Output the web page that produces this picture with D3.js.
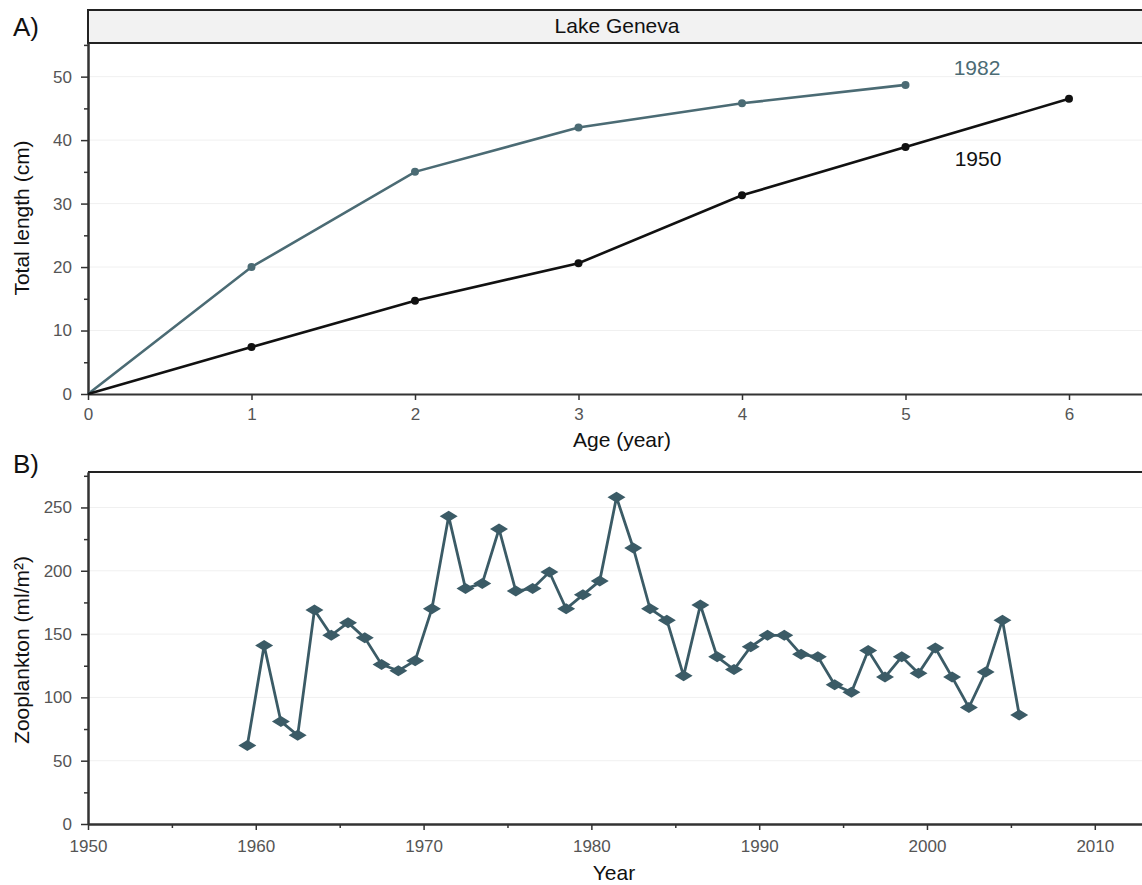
<!DOCTYPE html>
<html>
<head>
<meta charset="utf-8">
<script src="https://cdn.jsdelivr.net/npm/d3@7"></script>
<style>
  body { margin: 0; background: #fff; }
  text { font-family: "Liberation Sans", Arial, sans-serif; }
</style>
</head>
<body>
<div id="chart"></div>
<script>
// panel A data: mean total length at age
var ages = [0, 1, 2, 3, 4, 5, 6];
var length1950 = [0, 7.4, 14.7, 20.6, 31.3, 38.9, 46.5];
var length1982 = [0, 20, 35, 42, 45.8, 48.7];
var lengthTicks = [0, 10, 20, 30, 40, 50];
var ageTicks = [0, 1, 2, 3, 4, 5, 6];

// panel B data: zooplankton per year (plotted mid-year)
var years = [1959, 1960, 1961, 1962, 1963, 1964, 1965, 1966, 1967, 1968,
  1969, 1970, 1971, 1972, 1973, 1974, 1975, 1976, 1977, 1978,
  1979, 1980, 1981, 1982, 1983, 1984, 1985, 1986, 1987, 1988,
  1989, 1990, 1991, 1992, 1993, 1994, 1995, 1996, 1997, 1998,
  1999, 2000, 2001, 2002, 2003, 2004, 2005];
var zooplankton = [62, 141, 81, 70, 169, 149, 159, 147, 126, 121,
  129, 170, 243, 186, 190, 233, 184, 186, 199, 170,
  181, 192, 258, 218, 170, 161, 117, 173, 132, 122,
  140, 149, 149, 134, 132, 110, 104, 137, 116, 132,
  119, 139, 116, 92, 120, 161, 86];
var zooTicks = [0, 50, 100, 150, 200, 250];
var yearTicks = [1950, 1960, 1970, 1980, 1990, 2000, 2010];

var W = 1142, H = 885;
var tickGrey = "#555";
var teal = "#4b6b74";
var zooCol = "#3b5b66";

var svg = d3.select("#chart")
  .append("svg")
    .attr("width", W)
    .attr("height", H);

// ---------- panel A ----------
var xA = d3.scaleLinear().domain([0, 6.5]).range([88, 88 + 163.5 * 6.5]);
var yA = d3.scaleLinear().domain([0, 55.3]).range([394, 43]);

var gA = svg.append("g");

// grid
gA.selectAll(".gridA")
  .data(lengthTicks.slice(1))
  .enter().append("line")
    .attr("x1", 88).attr("x2", W)
    .attr("y1", function(d) { return yA(d); })
    .attr("y2", function(d) { return yA(d); })
    .style("stroke", "#f0f0f0").style("stroke-width", 1);

// header strip
gA.append("rect")
  .attr("x", 88).attr("y", 10)
  .attr("width", W - 88 + 10).attr("height", 33)
  .style("fill", "#f2f2f2").style("stroke", "#222").style("stroke-width", 2);
gA.append("text")
  .attr("x", 617).attr("y", 33)
  .attr("text-anchor", "middle")
  .style("font-size", "21px").style("fill", "#111")
  .text("Lake Geneva");

// axes
var yAxisA = d3.axisLeft(yA).tickValues(lengthTicks).tickSize(7).tickSizeOuter(0).tickPadding(9);
var yMinorA = d3.axisLeft(yA).tickValues([5, 15, 25, 35, 45, 55]).tickSize(4).tickSizeOuter(0).tickFormat("");
var xAxisA = d3.axisBottom(xA).tickValues(ageTicks).tickSize(6).tickSizeOuter(0).tickPadding(8)
  .tickFormat(d3.format("d"));

gA.append("g").attr("transform", "translate(88,0)").call(yMinorA);
gA.append("g").attr("class", "ax").attr("transform", "translate(88,0)").call(yAxisA);
gA.append("g").attr("class", "ax").attr("transform", "translate(0,394)").call(xAxisA);

// lines
var lineA = d3.line()
  .x(function(d) { return xA(d[0]); })
  .y(function(d) { return yA(d[1]); });

var s1950 = ages.map(function(a, i) { return [a, length1950[i]]; });
var s1982 = length1982.map(function(v, i) { return [ages[i], v]; });

[[s1982, teal], [s1950, "#111"]].forEach(function(s) {
  gA.append("path")
    .datum(s[0])
    .attr("d", lineA)
    .style("fill", "none").style("stroke", s[1]).style("stroke-width", 2.6);
  gA.selectAll(null)
    .data(s[0].slice(1))
    .enter().append("circle")
      .attr("cx", function(d) { return xA(d[0]); })
      .attr("cy", function(d) { return yA(d[1]); })
      .attr("r", 4)
      .style("fill", s[1]);
});

gA.append("text").attr("x", 977).attr("y", 75).attr("text-anchor", "middle")
  .style("font-size", "21px").style("fill", teal).text("1982");
gA.append("text").attr("x", 978).attr("y", 166).attr("text-anchor", "middle")
  .style("font-size", "21px").style("fill", "#111").text("1950");

gA.append("text").attr("x", 622).attr("y", 447).attr("text-anchor", "middle")
  .style("font-size", "21px").style("fill", "#111").text("Age (year)");
gA.append("text")
  .attr("transform", "translate(29,218) rotate(-90)")
  .attr("text-anchor", "middle")
  .style("font-size", "21px").style("fill", "#111").text("Total length (cm)");
gA.append("text").attr("x", 13).attr("y", 36)
  .style("font-size", "26px").style("fill", "#111").text("A)");

// ---------- panel B ----------
var xB = d3.scaleTime()
  .domain([new Date(1950, 0, 1), new Date(2013, 0, 1)])
  .range([88, 88 + 16.78 * 63]);
var yB = d3.scaleLinear().domain([0, 278]).range([824, 472]);

var gB = svg.append("g");

gB.selectAll(".gridB")
  .data(zooTicks.slice(1))
  .enter().append("line")
    .attr("x1", 88).attr("x2", W)
    .attr("y1", function(d) { return yB(d); })
    .attr("y2", function(d) { return yB(d); })
    .style("stroke", "#f0f0f0").style("stroke-width", 1);

gB.append("line")
  .attr("x1", 88).attr("x2", W)
  .attr("y1", 472).attr("y2", 472)
  .style("stroke", "#222").style("stroke-width", 2);

var yAxisB = d3.axisLeft(yB).tickValues(zooTicks).tickSize(7).tickSizeOuter(0).tickPadding(9);
var yMinorB = d3.axisLeft(yB).tickValues([25, 75, 125, 175, 225, 275]).tickSize(4).tickSizeOuter(0).tickFormat("");
var xAxisB = d3.axisBottom(xB)
  .tickValues(yearTicks.map(function(y) { return new Date(y, 0, 1); }))
  .tickSize(6).tickSizeOuter(0).tickPadding(10)
  .tickFormat(d3.timeFormat("%Y"));
var xMinorB = d3.axisBottom(xB)
  .tickValues(yearTicks.map(function(y) { return new Date(y + 5, 0, 1); }))
  .tickSize(4).tickSizeOuter(0).tickFormat("");

gB.append("g").attr("transform", "translate(88,0)").call(yMinorB);
gB.append("g").attr("transform", "translate(0,824)").call(xMinorB);
gB.append("g").attr("class", "ax").attr("transform", "translate(88,0)").call(yAxisB);
gB.append("g").attr("class", "ax").attr("transform", "translate(0,824)").call(xAxisB);

var zooData = years.map(function(y, i) { return { date: new Date(y, 6, 1), v: zooplankton[i] }; });

gB.append("path")
  .datum(zooData)
  .attr("d", d3.line()
    .x(function(d) { return xB(d.date); })
    .y(function(d) { return yB(d.v); }))
  .style("fill", "none").style("stroke", zooCol).style("stroke-width", 2.8);

gB.selectAll(".dia")
  .data(zooData)
  .enter().append("path")
    .attr("class", "dia")
    .attr("d", "M-9,0L0,-5.5L9,0L0,5.5Z")
    .attr("transform", function(d) { return "translate(" + xB(d.date) + "," + yB(d.v) + ")"; })
    .style("fill", zooCol);

gB.append("text").attr("x", 614).attr("y", 880).attr("text-anchor", "middle")
  .style("font-size", "21px").style("fill", "#111").text("Year");
gB.append("text")
  .attr("transform", "translate(29,650) rotate(-90)")
  .attr("text-anchor", "middle")
  .style("font-size", "21px").style("fill", "#111").text("Zooplankton (ml/m²)");
gB.append("text").attr("x", 13).attr("y", 473)
  .style("font-size", "26px").style("fill", "#111").text("B)");

// axis styling
svg.selectAll(".domain").style("stroke", "#333").style("stroke-width", 2);
svg.selectAll(".tick line").style("stroke", "#333").style("stroke-width", 1.5);
svg.selectAll(".ax .tick text")
  .style("font-size", "17px")
  .style("font-family", "'Liberation Sans', Arial, sans-serif")
  .style("fill", tickGrey);
</script>
</body>
</html>
